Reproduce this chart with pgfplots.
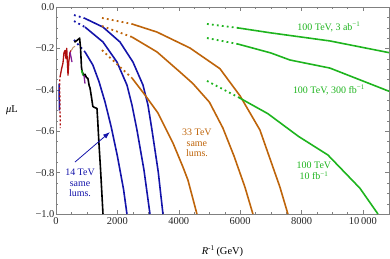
\documentclass[border=0pt]{standalone}
\usepackage{fontspec}
\setmainfont{Liberation Serif}
\usepackage{pgfplots}
\pgfplotsset{compat=1.18}
\usetikzlibrary{arrows.meta}
\definecolor{cblue}{RGB}{20,20,170}
\definecolor{corange}{RGB}{190,100,10}
\definecolor{cgreen}{RGB}{30,180,30}
\definecolor{cred}{RGB}{175,15,15}
\definecolor{cpurple}{RGB}{130,30,150}
\definecolor{ctan}{RGB}{190,150,110}
\begin{document}
\begin{tikzpicture}
\begin{axis}[
  scale only axis, width=333bp, height=207bp,
  xmin=0, xmax=10850, ymin=-1, ymax=0,
  scaled x ticks=false, scaled y ticks=false,
  axis line style={black!50},
  tick style={black!50},
  xtick={0,2000,4000,6000,8000,10000},
  xticklabels={0,2000,4000,6000,8000,10\,000},
  ytick={-1,-0.8,-0.6,-0.4,-0.2,0},
  yticklabels={−1.0,−0.8,−0.6,−0.4,−0.2,0.0},
  minor x tick num=3, minor y tick num=3,
  tick align=inside,
  major tick length=4bp, minor tick length=2.2bp,
  ticklabel style={font=\fontsize{10.5}{12}\selectfont, text=black!85},
  yticklabel style={xshift=2bp},
  clip=false,
  every axis plot/.append style={line width=1.6bp, line join=round},
  dotline/.style={line width=1.8bp, dash pattern=on 1.8bp off 3.2bp},
]
% 14 TeV (blue)
\addplot[cblue, dotline] coordinates {(586,-0.039)(912,-0.053)};
\addplot[cblue] coordinates {(912,-0.053)(1531,-0.097)(2084,-0.169)(2508,-0.266)(2834,-0.377)(2996,-0.473)(3127,-0.594)(3330,-0.795)(3485,-1.0)};
\addplot[cblue, dotline] coordinates {(586,-0.068)(945,-0.097)};
\addplot[cblue] coordinates {(945,-0.097)(1531,-0.169)(1987,-0.266)(2312,-0.377)(2475,-0.473)(2638,-0.594)(2866,-0.787)(3062,-1.0)};
\addplot[cblue, dotline] coordinates {(586,-0.159)(945,-0.217)};
\addplot[cblue] coordinates {(945,-0.217)(1200,-0.28)(1400,-0.36)(1600,-0.46)(1800,-0.58)(2000,-0.72)(2200,-0.88)(2312,-1.0)};
% 33 TeV (orange)
\addplot[corange, dotline] coordinates {(1498,-0.053)(2475,-0.082)};
\addplot[corange] coordinates {(2475,-0.082)(3290,-0.121)(4364,-0.198)(5341,-0.298)(6000,-0.43)(6644,-0.594)(7296,-0.87)(7556,-1.0)};
\addplot[corange, dotline] coordinates {(1498,-0.092)(2475,-0.145)};
\addplot[corange] coordinates {(2475,-0.145)(3290,-0.217)(4039,-0.314)(4462,-0.37)(5000,-0.46)(5439,-0.585)(5800,-0.72)(6156,-0.87)(6416,-1.0)};
\addplot[corange, dotline] coordinates {(1498,-0.208)(2475,-0.343)};
\addplot[corange] coordinates {(2475,-0.343)(2899,-0.425)(3322,-0.512)(3811,-0.657)(4136,-0.773)(4299,-0.836)(4592,-1.0)};
% 100 TeV (green)
\addplot[cgreen, dotline] coordinates {(4918,-0.082)(5928,-0.101)};
\addplot[cgreen] coordinates {(5928,-0.101)(7000,-0.125)(8924,-0.164)(10850,-0.2205)};
\addplot[cgreen, dotline] coordinates {(4918,-0.150)(5928,-0.179)};
\addplot[cgreen] coordinates {(5928,-0.179)(7000,-0.222)(7621,-0.256)(8924,-0.295)(10850,-0.407)};
\addplot[cgreen, dotline] coordinates {(4918,-0.357)(5928,-0.435)};
\addplot[cgreen] coordinates {(5928,-0.435)(6900,-0.515)(7900,-0.625)(8860,-0.715)(9900,-0.875)(10490,-1.0)};
% low-energy curves
\addplot[cred, line width=1.3bp] coordinates {(130,-0.34)(180,-0.30)(228,-0.27)(260,-0.22)(293,-0.21)(326,-0.25)(350,-0.20)(391,-0.33)(420,-0.26)(456,-0.22)(490,-0.21)};
\addplot[cpurple, line width=1.3bp] coordinates {(456,-0.217)(521,-0.266)};
\addplot[ctan, line width=1.0bp] coordinates {(500,-0.21)(560,-0.195)(620,-0.19)};
\addplot[cblue, line width=1.5bp] coordinates {(100,-0.37)(110,-0.50)};
\addplot[cred, line width=1.3bp, dash pattern=on 2bp off 2bp] coordinates {(120,-0.35)(130,-0.47)(140,-0.585)};
\addplot[black, line width=1.6bp] coordinates {(600,-0.17)(700,-0.16)(770,-0.15)(800,-0.2)(830,-0.29)(850,-0.31)(900,-0.33)(945,-0.325)(990,-0.34)(1040,-0.345)(1080,-0.38)(1107,-0.39)(1150,-0.43)(1200,-0.48)(1250,-0.485)(1335,-0.49)(1360,-0.55)(1400,-0.66)(1450,-0.78)(1531,-1.0)};
\addplot[cgreen, line width=1.5bp] coordinates {(830,-0.305)(880,-0.33)};
\addplot[cpurple, line width=1.3bp] coordinates {(912,-0.33)(945,-0.37)};
% labels
\node[text=cgreen, font=\fontsize{10}{11}\selectfont] at (axis cs:8892,-0.097) {100 TeV, 3 ab\textsuperscript{−1}};
\node[text=cgreen, font=\fontsize{10}{11}\selectfont] at (axis cs:8892,-0.401) {100 TeV, 300 fb\textsuperscript{−1}};
\node[text=cgreen, font=\fontsize{10}{11}\selectfont, align=center] at (axis cs:8403,-0.792) {100 TeV\\10 fb\textsuperscript{−1}};
\node[text=corange, font=\fontsize{10}{10.5}\selectfont, align=center] at (axis cs:4592,-0.657) {33 TeV\\same\\lums.};
\node[text=cblue, font=\fontsize{10}{10.5}\selectfont, align=center] at (axis cs:782,-0.85) {14 TeV\\same\\lums.};
\draw[cblue, line width=0.8bp, -{Latex[length=7bp,width=5bp]}] (axis cs:619,-0.749) -- (axis cs:1759,-0.604);
\node[font=\fontsize{10.5}{12}\selectfont] at (rel axis cs:-0.132,0.5) {\textit{μ}L};
\node[font=\fontsize{10.5}{12}\selectfont] at (rel axis cs:0.5,-0.179) {\textit{R}\textsuperscript{-1}\,(GeV)};
\end{axis}
\pgfresetboundingbox
\path[use as bounding box] ([xshift=-56bp,yshift=-45bp]current axis.south west) rectangle ([xshift=1bp,yshift=7bp]current axis.north east);
\end{tikzpicture}
\end{document}
